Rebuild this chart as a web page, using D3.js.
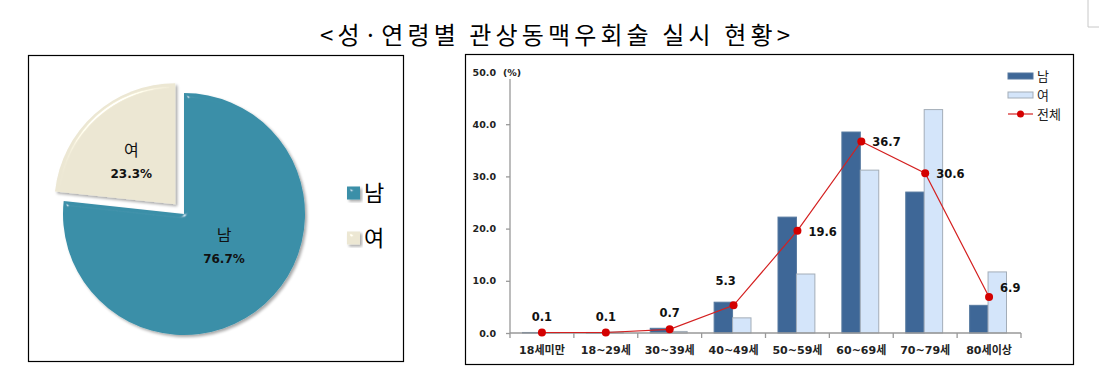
<!DOCTYPE html>
<html><head><meta charset="utf-8">
<script src="https://cdn.jsdelivr.net/npm/d3@7/dist/d3.min.js"></script>
<style>html,body{margin:0;padding:0;background:#fff;}svg{display:block;}</style>
</head><body>
<svg id="c" width="1099" height="384"></svg>
<script>
// ---- data ----
const titleText = "<성·연령별 관상동맥우회술 실시 현황>";
const pieLabels = ["남", "여"];
const pieValues = [76.7, 23.3];
const categories = ["18세미만", "18~29세", "30~39세", "40~49세", "50~59세", "60~69세", "70~79세", "80세이상"];
const seriesNames = ["남", "여", "전체"];
const maleValues = [0.1, 0.1, 0.9, 5.9, 22.2, 38.5, 27.0, 5.3];
const femaleValues = [0.1, 0.2, 0.3, 2.9, 11.3, 31.2, 42.8, 11.7];
const totalValues = [0.1, 0.1, 0.7, 5.3, 19.6, 36.7, 30.6, 6.9];
const yTicks = [0, 10, 20, 30, 40, 50];

const svg = d3.select("#c");
const defs = svg.append("defs");

// bevel filter for pie
const f = defs.append("filter").attr("id", "bevel").attr("x", "-10%").attr("y", "-10%").attr("width", "130%").attr("height", "130%");
f.append("feGaussianBlur").attr("in", "SourceAlpha").attr("stdDeviation", 2.5).attr("result", "blur");
const sp = f.append("feSpecularLighting").attr("in", "blur").attr("surfaceScale", 4).attr("specularConstant", 0.8)
  .attr("specularExponent", 80).attr("lighting-color", "#ffffff").attr("result", "spec");
sp.append("feDistantLight").attr("azimuth", 235).attr("elevation", 35);
f.append("feComposite").attr("in", "spec").attr("in2", "SourceAlpha").attr("operator", "in").attr("result", "specIn");
f.append("feComposite").attr("in", "SourceGraphic").attr("in2", "specIn").attr("operator", "arithmetic")
  .attr("k1", 0).attr("k2", 1).attr("k3", 0.6).attr("k4", 0).attr("result", "lit");
f.append("feOffset").attr("in", "SourceAlpha").attr("dx", 1.5).attr("dy", 1.5).attr("result", "off");
f.append("feGaussianBlur").attr("in", "off").attr("stdDeviation", 1.5).attr("result", "sh");
f.append("feComponentTransfer").attr("in", "sh").attr("result", "sh2")
  .append("feFuncA").attr("type", "linear").attr("slope", 0.35);
const fm = f.append("feMerge");
fm.append("feMergeNode").attr("in", "sh2");
fm.append("feMergeNode").attr("in", "lit");

// corner mark
svg.append("path").attr("d", "M1088,0V27H1099").attr("fill", "none").attr("stroke", "#c8c8c8").attr("stroke-width", 1);

// title
svg.append("text").attr("x", 320).attr("y", 44).attr("textLength", 470).attr("lengthAdjust", "spacing")
  .attr("font-family", "'Noto Sans CJK KR'").attr("font-size", 24).attr("fill", "#000").text(titleText);

// ---- pie panel ----
svg.append("rect").attr("x", 28.5).attr("y", 55.5).attr("width", 375).attr("height", 306)
  .attr("fill", "#fff").attr("stroke", "#000").attr("stroke-width", 1.2);

const pieColors = d3.scaleOrdinal().domain(pieLabels).range(["#3A8FA8", "#ECE7D3"]);
const cx = 184, cy = 214, R = 121;
const pie = d3.pie().sort(null).startAngle(0).endAngle(2 * Math.PI);
const arcs = pie(pieValues);
const arc = d3.arc().innerRadius(0).outerRadius(R);
const explode = [0, 13];
const pg = svg.append("g");
arcs.forEach((a, i) => {
  const mid = (a.startAngle + a.endAngle) / 2;
  const dx = Math.sin(mid) * explode[i], dy = -Math.cos(mid) * explode[i];
  const g = pg.append("g").attr("transform", `translate(${cx + dx},${cy + dy})`);
  g.append("path").attr("d", arc(a)).attr("fill", pieColors(pieLabels[i])).attr("filter", "url(#bevel)");
  const lx = i === 0 ? 40 : -44;
  const ly = i === 0 ? 27 : -48;
  g.append("text").attr("x", lx).attr("y", ly).attr("text-anchor", "middle")
    .attr("font-family", "'Noto Sans CJK KR'").attr("font-size", 16).attr("fill", "#111").text(pieLabels[i]);
  g.append("text").attr("x", lx).attr("y", ly + 22).attr("text-anchor", "middle")
    .attr("font-family", "'DejaVu Sans'").attr("font-weight", "bold").attr("font-size", 12).attr("fill", "#111")
    .text(pieValues[i].toFixed(1) + "%");
});
// pie legend
pieLabels.forEach((l, i) => {
  const y = 193 + i * 45;
  svg.append("rect").attr("x", 347).attr("y", y - 6.5).attr("width", 13).attr("height", 13)
    .attr("fill", pieColors(l)).attr("filter", "url(#bevel)");
  svg.append("text").attr("x", 364).attr("y", y + 8).attr("font-family", "'Noto Sans CJK KR'")
    .attr("font-size", 22).attr("fill", "#000").text(l);
});

// ---- bar panel ----
svg.append("rect").attr("x", 465.5).attr("y", 54.5).attr("width", 608).attr("height", 310)
  .attr("fill", "#fff").attr("stroke", "#000").attr("stroke-width", 1.2);

const x = d3.scaleBand().domain(categories).range([510, 1021]).padding(0);
const x1 = d3.scaleBand().domain(["남", "여"]).range([12.5, x.bandwidth() - 14.5]).padding(0);
const y = d3.scaleLinear().domain([0, 50]).range([333, 72]);
const barColors = { "남": "#3E6797", "여": "#D4E5FA" };
const barStroke = { "남": "#56799f", "여": "#a3adb8" };

const numFont = "'DejaVu Sans','Noto Sans CJK KR'";

// y axis
const yAxis = d3.axisLeft(y).tickValues(yTicks).tickSize(4).tickFormat(d3.format(".1f"));
const yg = svg.append("g").attr("transform", "translate(510,0)").call(yAxis);
yg.select(".domain").attr("stroke", "#999").attr("d", `M-4,${y(50)}H0V${y(0)}`).attr("stroke-width", 1.3);
yg.selectAll(".tick line").attr("stroke", "#999").attr("stroke-width", 1.3);
yg.selectAll(".tick text").attr("x", -14).attr("font-family", numFont).attr("font-weight", "bold")
  .attr("font-size", 9.5).attr("fill", "#222");
// unit label
svg.append("rect").attr("x", 503).attr("y", 66).attr("width", 19).attr("height", 13).attr("fill", "#fff");
svg.append("text").attr("x", 503).attr("y", y(50) + 3.5).attr("font-family", numFont).attr("font-weight", "bold")
  .attr("font-size", 9.5).attr("fill", "#222").text("(%)");

// bars
const bg = svg.append("g");
categories.forEach((c, i) => {
  [["남", maleValues[i]], ["여", femaleValues[i]]].forEach(([s, v]) => {
    bg.append("rect").attr("x", x(c) + x1(s)).attr("y", y(v)).attr("width", x1.bandwidth())
      .attr("height", y(0) - y(v)).attr("fill", barColors[s]).attr("stroke", barStroke[s]).attr("stroke-width", 1);
  });
});

// x axis
const xg = svg.append("g").attr("transform", `translate(0,${y(0)})`);
xg.append("path").attr("d", `M510,0H1021`).attr("stroke", "#999").attr("stroke-width", 1.3);
const boundaries = categories.map(c => x(c)).concat([x.range()[1]]);
xg.selectAll("line.t").data(boundaries).join("line").attr("x1", d => d).attr("x2", d => d)
  .attr("y1", 0).attr("y2", 5).attr("stroke", "#999").attr("stroke-width", 1.3);
xg.selectAll("text").data(categories).join("text").attr("x", d => x(d) + x.bandwidth() / 2).attr("y", 21)
  .attr("text-anchor", "middle").attr("font-family", numFont).attr("font-weight", "bold").attr("font-size", 11)
  .attr("fill", "#222").text(d => d);

// total line
const cxp = c => x(c) + x.bandwidth() / 2;
const line = d3.line().x((d, i) => cxp(categories[i])).y(d => y(d));
svg.append("path").attr("d", line(totalValues)).attr("fill", "none").attr("stroke", "#D42020").attr("stroke-width", 1.2);
svg.selectAll("circle.p").data(totalValues).join("circle").attr("cx", (d, i) => cxp(categories[i]))
  .attr("cy", d => y(d)).attr("r", 4).attr("fill", "#D40000");
// value labels
totalValues.forEach((v, i) => {
  const px = cxp(categories[i]), py = y(v);
  let tx, ty, anchor;
  if (i < 4) { anchor = "middle"; tx = px - (i === 3 ? 8 : 0); ty = py - (i === 3 ? 24 : 16); }
  else { anchor = "start"; tx = px + 11; ty = py + (i === 7 ? -9 : 1); }
  svg.append("text").attr("x", tx).attr("y", ty).attr("dy", "0.35em").attr("text-anchor", anchor)
    .attr("font-family", numFont).attr("font-weight", "bold").attr("font-size", 11.5).attr("fill", "#111")
    .text(v.toFixed(1));
});

// bar legend
const lg = svg.append("g");
seriesNames.forEach((s, i) => {
  const ly = 76 + i * 19;
  if (i < 2) {
    lg.append("rect").attr("x", 1008).attr("y", ly - 3).attr("width", 25).attr("height", 6)
      .attr("fill", barColors[s]).attr("stroke", barStroke[s]).attr("stroke-width", 1);
  } else {
    lg.append("line").attr("x1", 1008).attr("x2", 1033).attr("y1", ly).attr("y2", ly).attr("stroke", "#D42020").attr("stroke-width", 1.2);
    lg.append("circle").attr("cx", 1020.5).attr("cy", ly).attr("r", 3.5).attr("fill", "#D40000");
  }
  lg.append("text").attr("x", 1037).attr("y", ly).attr("dy", "0.35em").attr("font-family", "'Noto Sans CJK KR'")
    .attr("font-size", 13).attr("fill", "#222").text(s);
});
</script>
</body></html>
